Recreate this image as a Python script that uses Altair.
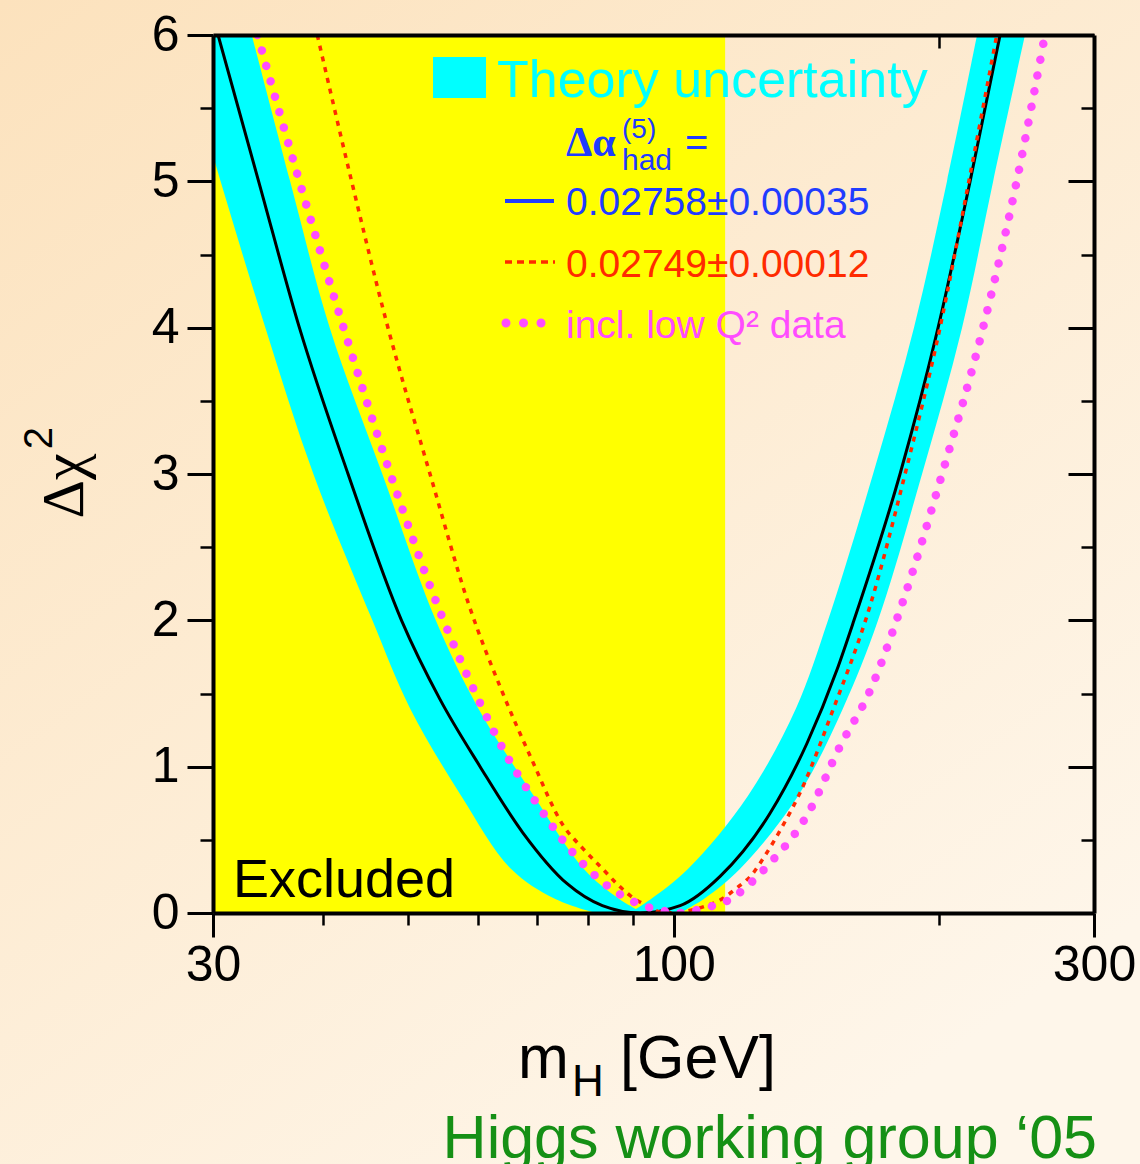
import altair as alt
import pandas as pd

# ---------------- data ----------------
# LEP direct-search exclusion (GeV)
excl_lo, excl_hi = 30.0, 114.4

# central fit, dalpha_had = 0.02758 +- 0.00035 (black line)
black_m = [30.4, 33.8, 37.6, 42.7, 49.1, 54.3, 60.3, 67.4, 75.7, 83.0, 91.6,
           101.7, 112.9, 128.6, 141.7, 153.2, 160.2, 180.7, 199.6, 217.0, 234.7]
black_d = [6.0, 5.0, 4.0, 3.0, 2.0, 1.46, 1.0, 0.55, 0.2, 0.05, 0.0,
           0.05, 0.25, 0.68, 1.16, 1.66, 2.0, 3.0, 4.0, 5.0, 6.0]

# theory-uncertainty band, given per delta-chi2 level for each branch
band_d = [0.0, 0.1, 0.3, 0.8, 1.4, 2.0, 3.0, 4.0, 5.0, 6.0]
bandL_lo = [81.4, 73.1, 65.4, 57.4, 50.2, 45.5, 39.0, 34.4, 30.6, 27.4]
bandL_hi = [92.3, 86.5, 79.1, 69.4, 60.0, 53.7, 46.7, 40.7, 36.7, 33.2]
bandR_lo = [89.2, 94.5, 103.8, 121.4, 137.7, 149.7, 168.4, 187.4, 204.3, 221.0]
bandR_hi = [101.7, 108.5, 118.9, 138.4, 155.7, 170.6, 191.4, 212.5, 230.5, 250.5]

# dalpha_had = 0.02749 +- 0.00012 (red dashed)
red_m = [39.4, 43.1, 47.2, 52.9, 58.6, 64.0, 69.0, 74.9, 78.9, 83.1, 86.2, 89.2,
         93.2, 97.8, 111.9, 117.9, 123.0, 126.9, 133.1, 139.1, 151.7, 167.1,
         183.1, 200.6, 216.3, 232.7]
red_d = [6.0, 5.0, 4.04, 3.0, 2.1, 1.5, 1.05, 0.6, 0.44, 0.3, 0.2, 0.12,
         0.05, 0.0, 0.077, 0.17, 0.27, 0.39, 0.6, 0.82, 1.39, 2.1,
         3.0, 4.0, 5.0, 6.0]

# incl. low Q^2 data (magenta dotted)
mag_m = [33.7, 37.6, 42.0, 47.7, 54.3, 59.8, 64.3, 69.9, 76.9, 83.9, 89.9, 93.5,
         97.3, 101.1, 105.2, 109.4, 113.8, 128.6, 142.1, 154.5, 167.1, 182.1,
         201.7, 224.5, 245.1, 263.9]
mag_d = [6.0, 5.0, 4.04, 3.0, 2.06, 1.48, 1.1, 0.75, 0.41, 0.19, 0.08, 0.04,
         0.015, 0.0, 0.015, 0.04, 0.07, 0.34, 0.68, 1.14, 1.52, 2.13,
         3.0, 4.0, 5.0, 6.0]

x_major = [30, 100, 300]
x_minor = [40, 50, 60, 70, 80, 90, 200]
y_major = [0, 1, 2, 3, 4, 5, 6]
y_minor = [0.5, 1.5, 2.5, 3.5, 4.5, 5.5]

# ---------------- styling ----------------
CYAN = "#00ffff"
YELLOW = "#ffff00"
BLUE = "#1f3cff"
RED = "#ff2b00"
MAG = "#ff4cff"
GREEN = "#159015"
FONT = "Liberation Sans"
SERIF = "Liberation Serif"

W, H = 881, 878
xs = alt.Scale(type="log", domain=[30, 300], nice=False)
ys = alt.Scale(domain=[0, 6], nice=False, zero=False)

common = dict(grid=False, title=None, zindex=1, tickColor="black",
              domainColor="black", labelColor="black")

ax_b_major = alt.Axis(orient="bottom", values=x_major, format="d", tickSize=24,
                      tickWidth=3, domain=True, domainWidth=4, labelFont=FONT,
                      labelFontSize=50, labelPadding=3, labelFlush=False,
                      labelOverlap=False, **common)
ax_b_minor = alt.Axis(orient="bottom", values=x_minor, tickSize=12, tickWidth=2.5,
                      labels=False, domain=False, **common)
ax_t_ticks = alt.Axis(orient="top", values=[200], offset=-13, tickSize=13,
                      tickWidth=2.5, labels=False, domain=False, **common)
ax_t_dom = alt.Axis(orient="top", ticks=False, labels=False, domain=True,
                    domainWidth=4, **common)
ax_l_major = alt.Axis(orient="left", values=y_major, format="d", tickSize=26,
                      tickWidth=3, domain=True, domainWidth=4, labelFont=FONT,
                      labelFontSize=50, labelPadding=8, labelOverlap=False, **common)
ax_l_minor = alt.Axis(orient="left", values=y_minor, tickSize=13, tickWidth=2.5,
                      labels=False, domain=False, **common)
ax_r_major = alt.Axis(orient="right", values=y_major, offset=-26, tickSize=26,
                      tickWidth=3, labels=False, domain=False, **common)
ax_r_minor = alt.Axis(orient="right", values=y_minor, offset=-13, tickSize=13,
                      tickWidth=2.5, labels=False, domain=False, **common)
ax_r_dom = alt.Axis(orient="right", ticks=False, labels=False, domain=True,
                    domainWidth=4, **common)

one = pd.DataFrame({"k": [0]})

# background gradient over the whole canvas
bg = alt.Chart(one).mark_rect(
    fill={"gradient": "linear", "x1": 0, "y1": 0, "x2": 0.7, "y2": 1,
          "stops": [{"offset": 0, "color": "#fce2bd"},
                    {"offset": 1, "color": "#fef6ea"}]}
).encode(x=alt.value(-213), x2=alt.value(927), y=alt.value(-35), y2=alt.value(1129))

excl = alt.Chart(pd.DataFrame({"lo": [excl_lo], "hi": [excl_hi],
                               "y0": [0.0], "y1": [6.0]})).mark_rect(
    color=YELLOW, clip=True).encode(
    x=alt.X("lo:Q", scale=xs, axis=ax_b_major), x2="hi:Q",
    y=alt.Y("y0:Q", scale=ys, axis=ax_l_major), y2="y1:Q")

bandL = alt.Chart(pd.DataFrame({"d": band_d, "lo": bandL_lo, "hi": bandL_hi})).mark_area(
    color=CYAN, orient="horizontal", interpolate="catmull-rom", clip=True,
    opacity=1).encode(
    y=alt.Y("d:Q", scale=ys, axis=ax_l_minor, sort="ascending"),
    x=alt.X("lo:Q", scale=xs, axis=ax_b_minor), x2="hi:Q")

bandR = alt.Chart(pd.DataFrame({"d": band_d, "lo": bandR_lo, "hi": bandR_hi})).mark_area(
    color=CYAN, orient="horizontal", interpolate="catmull-rom", clip=True,
    opacity=1).encode(
    y=alt.Y("d:Q", scale=ys, axis=ax_r_major, sort="ascending"),
    x=alt.X("lo:Q", scale=xs, axis=ax_t_ticks), x2="hi:Q")

black = alt.Chart(pd.DataFrame({"m": black_m, "d": black_d})).mark_line(
    color="black", strokeWidth=3, interpolate="monotone", clip=True).encode(
    x=alt.X("m:Q", scale=xs, axis=ax_t_dom),
    y=alt.Y("d:Q", scale=ys, axis=ax_r_minor))

red = alt.Chart(pd.DataFrame({"m": red_m, "d": red_d})).mark_line(
    color=RED, strokeWidth=3.5, strokeDash=[5, 6], interpolate="monotone",
    clip=True).encode(
    x=alt.X("m:Q", scale=xs, axis=None),
    y=alt.Y("d:Q", scale=ys, axis=ax_r_dom))

mag = alt.Chart(pd.DataFrame({"m": mag_m, "d": mag_d})).mark_line(
    color=MAG, strokeWidth=8.5, strokeDash=[0.01, 16], strokeCap="round",
    interpolate="monotone", clip=True).encode(
    x=alt.X("m:Q", scale=xs, axis=None),
    y=alt.Y("d:Q", scale=ys, axis=None))


def txt(s, x, y, size, color="black", font=FONT, align="left", weight="normal",
        angle=0):
    kw = dict(text=s, align=align, baseline="alphabetic", font=font,
              fontSize=size, color=color, fontWeight=weight)
    if angle:
        kw["angle"] = angle
    return alt.Chart(one).mark_text(**kw).encode(x=alt.value(x), y=alt.value(y))


leg_rect = alt.Chart(one).mark_rect(color=CYAN).encode(
    x=alt.value(220), x2=alt.value(273), y=alt.value(22), y2=alt.value(63))
leg_blue = alt.Chart(one).mark_rule(color=BLUE, strokeWidth=4).encode(
    x=alt.value(292), x2=alt.value(341), y=alt.value(166))
leg_red = alt.Chart(one).mark_rule(color=RED, strokeWidth=3.5, strokeDash=[7, 5]).encode(
    x=alt.value(292), x2=alt.value(342), y=alt.value(227))
leg_mag = alt.Chart(one).mark_rule(color=MAG, strokeWidth=9, strokeDash=[0.01, 17.5],
                                   strokeCap="round").encode(
    x=alt.value(293), x2=alt.value(329), y=alt.value(288))

texts = [
    txt("Theory uncertainty", 284, 62, 52, CYAN),
    txt("Δα", 353, 121, 42, BLUE, font=SERIF, weight="bold"),
    txt("(5)", 409, 103, 28, BLUE),
    txt("had", 409, 135, 30, BLUE),
    txt("=", 472, 121, 40, BLUE),
    txt("0.02758±0.00035", 353, 180, 39, BLUE),
    txt("0.02749±0.00012", 353, 242, 39, RED),
    txt("incl. low Q² data", 353, 303, 39, MAG),
    txt("Excluded", 20, 862, 54),
    txt("Δχ", -130, 451, 60, font=SERIF, align="center", angle=270),
    txt("2", -161, 403, 40, align="center", angle=270),
    txt("m", 305, 1043, 61),
    txt("H", 359, 1061, 44),
    txt("[GeV]", 407, 1043, 61),
    txt("Higgs working group ‘05", 884, 1123, 61, GREEN, align="right"),
]

chart = alt.layer(
    bg, excl, bandL, bandR, black, red, mag,
    leg_rect, leg_blue, leg_red, leg_mag, *texts
).resolve_axis(x="independent", y="independent").properties(
    width=W, height=H,
    autosize=alt.AutoSizeParams(type="none"),
    padding={"left": 213, "top": 35, "right": 46, "bottom": 251},
    background="#fdeedb",
).configure_view(stroke=None)

chart.save("out.html", embed_options={"renderer": "svg", "actions": False})
